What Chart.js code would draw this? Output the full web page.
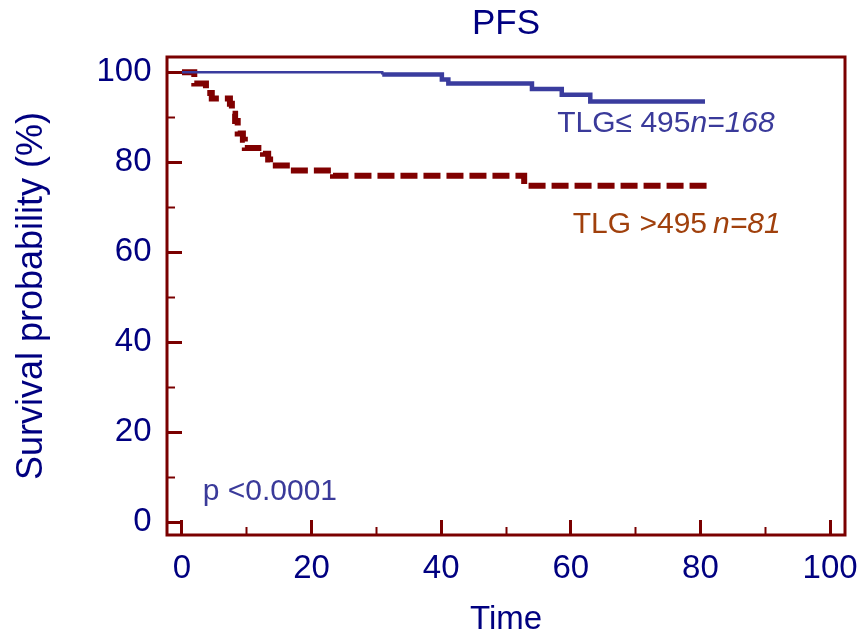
<!DOCTYPE html>
<html>
<head>
<meta charset="utf-8">
<title>PFS</title>
<script src="https://cdn.jsdelivr.net/npm/chart.js@4.4.1/dist/chart.umd.min.js"></script>
<style>
  html, body { margin: 0; padding: 0; background: #fff; }
  #wrap { width: 864px; height: 640px; }
</style>
</head>
<body>
<div id="wrap"><canvas id="pfsChart" width="864" height="640"></canvas></div>
<script>
/* Kaplan-Meier PFS curves for the two TLG groups */

// step times (x) and survival % after each step (y)
const lowTime  = [0, 30.9, 40.1, 41.1, 54.0, 58.6, 63.0, 80.7];
const lowSurv  = [100, 99.5, 98.4, 97.5, 96.3, 95.0, 93.5, 93.5];

const highTime = [0, 1.9, 3.7, 4.6, 7.4, 7.7, 8.2, 8.6, 9.4, 9.7, 12.5, 13.3, 13.6, 16.7, 23.3, 52.8, 81.3];
const highSurv = [100, 97.5, 95.4, 94.2, 93.0, 90.8, 89.2, 86.4, 85.0, 83.2, 81.9, 80.6, 79.3, 78.2, 77.0, 74.8, 74.8];

// axis ticks
const xTicks      = [0, 20, 40, 60, 80, 100];
const xMinorTicks = [10, 30, 50, 70, 90];
const yTicks      = [0, 20, 40, 60, 80, 100];
const yMinorTicks = [10, 30, 50, 70, 90];

const FONT   = "'Liberation Sans', Arial, sans-serif";
const NAVY   = "#000080";
const FRAME  = "#7a0000";
const BLUE   = "#3a3c9e";
const MAROON = "#800000";

Chart.defaults.font.family = FONT;

const toPoints = (xs, ys) => xs.map((t, i) => ({ x: t, y: ys[i] }));
const setTicks = list => scale => { scale.ticks = list.map(v => ({ value: v })); };

// fixed axis size, no extra room for overhanging labels
const fixSize = (w, h) => s => {
  if (w !== null) s.width = w;
  if (h !== null) s.height = h;
  s.paddingLeft = s.paddingRight = s.paddingTop = s.paddingBottom = 0;
};

// box round the plot area
const framePlugin = {
  id: "frame",
  afterDatasetsDraw(chart) {
    const { ctx, chartArea: a } = chart;
    ctx.save();
    ctx.strokeStyle = FRAME;
    ctx.lineWidth = 3;
    ctx.strokeRect(a.left, a.top, a.right - a.left, a.bottom - a.top);
    ctx.restore();
  }
};

// group labels and p value, placed in data units
const groupLabels = {
  id: "groupLabels",
  afterDatasetsDraw(chart, args, opts) {
    const { ctx, scales: { x, y } } = chart;
    ctx.save();
    ctx.textBaseline = "alphabetic";
    opts.items.forEach(item => {
      let px = x.getPixelForValue(item.x);
      const py = y.getPixelForValue(item.y);
      ctx.fillStyle = item.color;
      item.parts.forEach(p => {
        ctx.font = (p.italic ? "italic " : "") + item.size + "px " + FONT;
        ctx.fillText(p.text, px, py);
        px += ctx.measureText(p.text).width + (p.gap || 0);
      });
    });
    ctx.restore();
  }
};

const tickGrid = (len, width) => ({
  display: true,
  drawOnChartArea: false,
  drawTicks: true,
  tickLength: -len,
  tickWidth: width,
  tickColor: FRAME
});

new Chart(document.getElementById("pfsChart"), {
  type: "line",
  data: {
    datasets: [
      {
        label: "TLG ≤ 495",
        data: toPoints(lowTime, lowSurv),
        borderColor: BLUE,
        borderWidth: 4.5,
        stepped: true,
        pointRadius: 0,
        segment: {
          borderWidth: c => (c.p0DataIndex === 0 ? 2.5 : 4.5)
        }
      },
      {
        label: "TLG > 495",
        data: toPoints(highTime, highSurv),
        borderColor: MAROON,
        borderWidth: 6,
        borderDash: [17, 6],
        borderCapStyle: "butt",
        stepped: true,
        pointRadius: 0
      }
    ]
  },
  options: {
    responsive: false,
    animation: false,
    events: [],
    layout: { padding: { left: 0, right: 19, top: 0, bottom: 0 } },
    plugins: {
      legend: { display: false },
      tooltip: { enabled: false },
      title: {
        display: true,
        text: "PFS",
        color: NAVY,
        fullSize: false,
        font: { size: 35, weight: "normal" },
        padding: { top: 3, bottom: 12 }
      },
      groupLabels: {
        items: [
          { x: 57.9, y: 86.7, size: 30, color: "#3a3a9a",
            parts: [{ text: "TLG≤ 495" }, { text: "n=168", italic: true }] },
          { x: 60.3, y: 64.2, size: 30, color: "#a0400c",
            parts: [{ text: "TLG >495", gap: 6 }, { text: "n=81", italic: true }] },
          { x: 3.2, y: 4.9, size: 30, color: "#3a3a9a",
            parts: [{ text: "p <0.0001" }] }
        ]
      }
    },
    scales: {
      x: {
        type: "linear",
        position: "bottom",
        min: -2.31,
        max: 102.3,
        weight: 1,
        afterBuildTicks: setTicks(xTicks),
        afterFit: fixSize(null, 105),
        grid: tickGrid(15, 3),
        border: { display: false },
        ticks: { color: NAVY, font: { size: 33 }, padding: 29, maxRotation: 0, autoSkip: false },
        title: { display: true, text: "Time", color: NAVY, font: { size: 33 }, padding: 0 }
      },
      xMinor: {
        type: "linear",
        axis: "x",
        position: "bottom",
        min: -2.31,
        max: 102.3,
        weight: 0,
        afterBuildTicks: setTicks(xMinorTicks),
        afterFit: fixSize(null, 0),
        grid: tickGrid(8, 2),
        border: { display: false },
        ticks: { display: false }
      },
      y: {
        type: "linear",
        position: "left",
        min: -2.82,
        max: 103.4,
        weight: 1,
        afterBuildTicks: setTicks(yTicks),
        afterFit: fixSize(167, null),
        grid: tickGrid(15, 3),
        border: { display: false },
        ticks: { color: NAVY, font: { size: 33 }, padding: 30.5, autoSkip: false },
        title: {
          display: true,
          text: "Survival probability (%)",
          color: NAVY,
          font: { size: 36 },
          padding: { top: 10, bottom: 0 }
        }
      },
      yMinor: {
        type: "linear",
        axis: "y",
        position: "left",
        min: -2.82,
        max: 103.4,
        weight: 0,
        afterBuildTicks: setTicks(yMinorTicks),
        afterFit: fixSize(0, null),
        grid: tickGrid(8, 2),
        border: { display: false },
        ticks: { display: false }
      }
    }
  },
  plugins: [framePlugin, groupLabels]
});
</script>
</body>
</html>
